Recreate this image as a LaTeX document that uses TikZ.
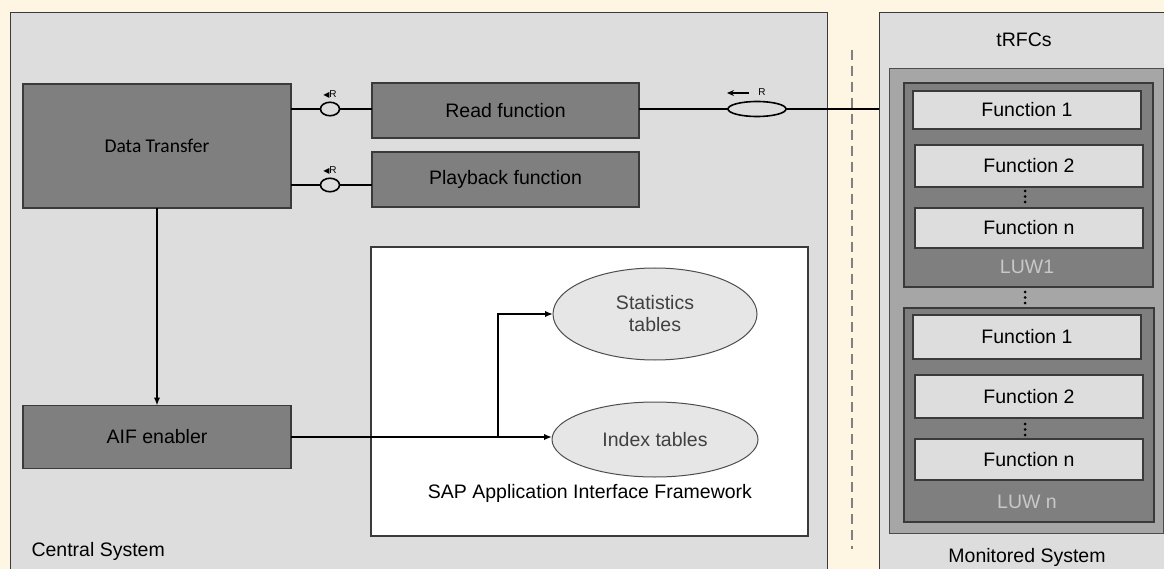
\documentclass[tikz,border=0pt]{standalone}
\usepackage{fontspec}
\setmainfont{Liberation Sans}
\newfontfamily\calib{Carlito}
\newfontfamily\dejavu{DejaVu Sans}
\usetikzlibrary{arrows.meta,shapes.geometric}
\definecolor{cream}{HTML}{FFF5E3}
\definecolor{panelgray}{HTML}{DDDDDD}
\definecolor{darkgray}{HTML}{7F7F7F}
\definecolor{midgray}{HTML}{A6A6A6}
\definecolor{edgegray}{HTML}{3A3A3A}
\definecolor{luwtxt}{HTML}{C8C8C8}
\definecolor{ellgray}{HTML}{E6E6E6}
\definecolor{dashgray}{HTML}{808080}
\tikzset{
  txt/.style={font=\fontsize{19.5}{23}\selectfont},
  panelbox/.style={draw=edgegray, fill=panelgray, line width=1pt, inner sep=0pt, outer sep=0pt, anchor=north west},
  darkbox/.style={draw=edgegray, fill=darkgray, line width=1.2pt, inner sep=0pt, outer sep=0pt, txt, text=black},
  fnbox/.style={draw=edgegray, fill=panelgray, line width=1.2pt, inner sep=0pt, outer sep=0pt, txt, minimum width=228pt},
  luwbox/.style={draw=edgegray, fill=darkgray, line width=1.2pt, inner sep=0pt, outer sep=0pt, anchor=north west},
  tbl/.style={ellipse, draw=edgegray!90, fill=ellgray, line width=1pt, inner sep=0pt, outer sep=0pt, txt, text=black!75, align=center},
  iface/.style={ellipse, draw=black, fill=panelgray, line width=1.6pt, inner sep=0pt, outer sep=0pt},
  conn/.style={draw=black, line width=2pt},
  flow/.style={draw=black, line width=2pt, -{Latex[length=8pt,width=6.5pt]}},
  small/.style={font=\fontsize{10}{12}\selectfont, inner sep=0pt},
  dotmark/.style={fill=black}
}
\begin{document}
\begin{tikzpicture}[x=1pt,y=-1pt]
\useasboundingbox (0,0) rectangle (1164,569);
\clip (0,0) rectangle (1164,569);
\fill[cream] (0,0) rectangle (1164,569);

% panels
\node[panelbox, minimum width=817pt, minimum height=570pt] (central) at (10,13) {};
\node[panelbox, minimum width=300pt, minimum height=570pt] (mon) at (879,13) {};
\node[txt, anchor=west] (centraltxt) at (28,551) {Central System};
\node[txt] (montxt) at (1027,557) {Monitored System};

% dashed separator
\coordinate (dtop) at (852,50);
\coordinate (dbot) at (852,549);
\draw[dashgray, line width=2pt, dash pattern=on 10pt off 6pt] (dtop) -- (dbot);

% left side boxes
\node[darkbox, minimum width=268pt, minimum height=124pt, font=\calib\fontsize{19.5}{23}\selectfont] (dt) at (157,146) {Data Transfer};
\node[darkbox, minimum width=267pt, minimum height=55pt] (rf) at (505.5,110.5) {Read function};
\node[darkbox, minimum width=267pt, minimum height=55pt] (pf) at (505.5,179.5) {Playback function};
\node[darkbox, minimum width=268pt, minimum height=63pt] (aif) at (157,437) {AIF enabler};

% interfaces
\node[iface, minimum width=19pt, minimum height=13.5pt] (i1) at (330,109) {};
\node[iface, minimum width=19pt, minimum height=13.5pt] (i2) at (330,185) {};
\draw[conn] (dt.east |- i1) -- (i1.west);
\draw[conn] (i1.east) -- (rf.west |- i1);
\draw[conn] (dt.east |- i2) -- (i2.west);
\draw[conn] (i2.east) -- (pf.west |- i2);
\node[small] (l1) at (330,95) {{\dejavu\fontsize{8}{9}\selectfont ◀}R};
\node[small] (l2) at (330,171) {{\dejavu\fontsize{8}{9}\selectfont ◀}R};

% remote interface
\node[iface, minimum width=58pt, minimum height=15pt] (rfc) at (757,109) {};
\draw[conn] (rf.east |- rfc) -- (rfc.west);
\draw[conn] (rfc.east) -- (rfc.east -| mon.west);
\coordinate (ra1) at (749,93);
\coordinate (ra2) at (727,93);
\draw[line width=1.4pt, -{Stealth[length=7pt,width=6pt]}] (ra1) -- (ra2);
\node[small] (rl) at (762,92) {R};

% SAP AIF frame
\node[draw=edgegray, fill=white, line width=1.2pt, inner sep=0pt, minimum width=437pt, minimum height=289pt] (sap) at (589.5,391.5) {};
\node[tbl, minimum width=204pt, minimum height=92pt] (st) at (655,314) {Statistics\\[-1pt]tables};
\node[tbl, minimum width=206pt, minimum height=75pt] (ix) at (655,439.5) {Index tables};
\node[txt] (saptxt) at (590,493) {SAP Application Interface Framework};

% flows
\draw[flow, line width=1.6pt] (dt.south) -- (dt.south |- aif.north);
\draw[flow] (aif.east) -- (aif.east -| ix.west);
\coordinate (br) at (498,437);
\draw[flow] (br) |- (st.west);

% monitored side
\node[txt] (trfc) at (1024,40) {tRFCs};
\node[draw=black!70, fill=midgray, line width=1.2pt, inner sep=0pt, anchor=north west, minimum width=274pt, minimum height=465pt] (luwall) at (889,68) {};
\node[luwbox, minimum width=249pt, minimum height=204pt] (luw1) at (904,83) {};
\node[fnbox, minimum height=38pt] (a1) at (1027,110) {Function 1};
\node[fnbox, minimum height=42pt] (a2) at (1029,166) {Function 2};
\node[fnbox, minimum height=40pt] (an) at (1029,228) {Function n};
\node[txt, text=luwtxt] (luw1txt) at (1027,267) {LUW1};

\node[luwbox, minimum width=250pt, minimum height=214pt] (luwn) at (904,308) {};
\node[fnbox, minimum height=44pt] (b1) at (1027,337) {Function 1};
\node[fnbox, minimum height=43pt] (b2) at (1029,396.5) {Function 2};
\node[fnbox, minimum height=41pt] (bn) at (1029,459.5) {Function n};
\node[txt, text=luwtxt] (luwntxt) at (1027,502) {LUW n};

% vertical dots
\foreach \y in {191,196.5,202} \fill[dotmark] (1025,\y) circle (1.5pt);
\foreach \y in {292,297.5,303} \fill[dotmark] (1025,\y) circle (1.5pt);
\foreach \y in {424,429.5,435} \fill[dotmark] (1025,\y) circle (1.5pt);
\end{tikzpicture}
\end{document}
